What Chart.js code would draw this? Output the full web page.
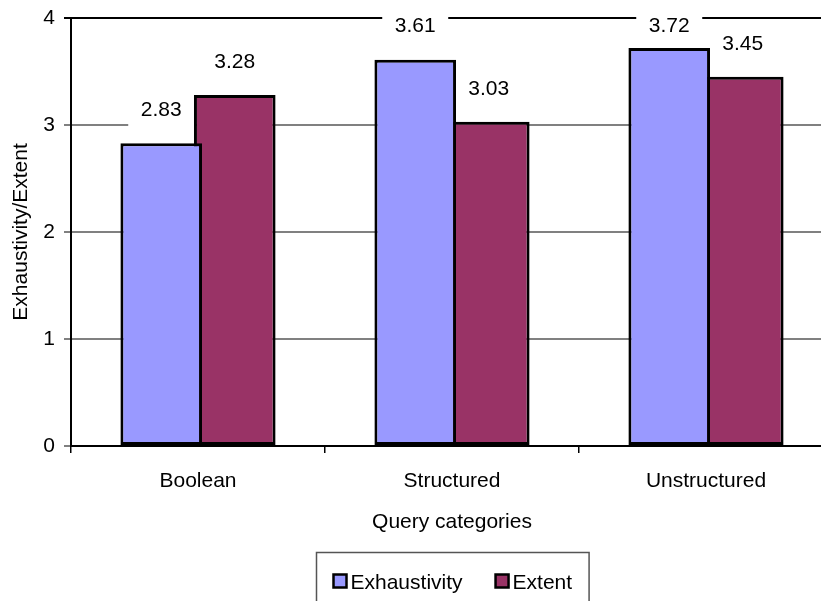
<!DOCTYPE html>
<html>
<head>
<meta charset="utf-8">
<script src="https://cdn.jsdelivr.net/npm/chart.js@4/dist/chart.umd.min.js"></script>
<style>
  html, body { margin: 0; padding: 0; background: #fff; overflow: hidden; }
  #wrap { width: 821px; height: 601px; overflow: hidden; }
</style>
</head>
<body>
<div id="wrap"><canvas id="c" width="850" height="601"></canvas></div>
<script>
const categories = ['Boolean', 'Structured', 'Unstructured'];
const exhaustivity = [2.83, 3.61, 3.72];
const extent = [3.28, 3.03, 3.45];
const seriesNames = ['Exhaustivity', 'Extent'];
const yTicks = [0, 1, 2, 3, 4];
const xTitle = 'Query categories';
const yTitle = 'Exhaustivity/Extent';

const FONT = '"Liberation Sans", Arial, sans-serif';
const FS = 21;

const labelPlugin = {
  id: 'valueLabels',
  beforeDatasetsDraw(chart) {
    const ctx = chart.ctx;
    ctx.save();
    ctx.fillStyle = '#fff';
    chart.data.datasets.forEach((ds, di) => {
      chart.getDatasetMeta(di).data.forEach((bar) => {
        const cy = Math.max(bar.y - 34, 25);
        ctx.fillRect(bar.x - 33, cy - 18, 66, 36);
      });
    });
    ctx.restore();
  },
  afterDatasetsDraw(chart) {
    const ctx = chart.ctx;
    ctx.save();
    ctx.fillStyle = '#000';
    ctx.font = FS + 'px ' + FONT;
    ctx.textAlign = 'center';
    ctx.textBaseline = 'middle';
    chart.data.datasets.forEach((ds, di) => {
      chart.getDatasetMeta(di).data.forEach((bar, i) => {
        const cy = Math.max(bar.y - 34, 25);
        ctx.fillText(ds.data[i].toFixed(2), bar.x, cy + 1);
      });
    });
    ctx.restore();
  }
};

const legendPlugin = {
  id: 'boxLegend',
  afterDraw(chart) {
    const ctx = chart.ctx;
    const a = chart.chartArea;
    ctx.save();
    ctx.font = FS + 'px ' + FONT;
    const sq = 13, gap = 4, between = 33, pad = 17;
    const items = chart.data.datasets.map(d => ({ text: d.label, color: d.backgroundColor, w: ctx.measureText(d.label).width }));
    let content = 0;
    items.forEach((it, i) => { content += sq + gap + it.w + (i < items.length - 1 ? between : 0); });
    const boxW = content + pad * 2;
    const cx = (a.left + a.right) / 2;
    const bx = Math.round(cx - boxW / 2) + 0.5;
    const by = a.bottom + 106.5;
    ctx.strokeStyle = '#555';
    ctx.lineWidth = 1.5;
    ctx.strokeRect(bx, by, boxW, 70);
    let x = bx + pad;
    const ty = by + 30;
    items.forEach((it) => {
      ctx.fillStyle = it.color;
      ctx.fillRect(x, ty - 8, sq, sq);
      ctx.strokeStyle = '#000';
      ctx.lineWidth = 2.5;
      ctx.strokeRect(x, ty - 8, sq, sq);
      ctx.fillStyle = '#000';
      ctx.textAlign = 'left';
      ctx.textBaseline = 'middle';
      ctx.fillText(it.text, x + sq + gap, ty + 1);
      x += sq + gap + it.w + between;
    });
    ctx.restore();
  }
};

new Chart(document.getElementById('c'), {
  type: 'bar',
  data: {
    labels: categories,
    datasets: [
      { label: seriesNames[0], data: exhaustivity, backgroundColor: '#9999FF', borderColor: '#000', borderWidth: 3, borderSkipped: false },
      { label: seriesNames[1], data: extent, backgroundColor: '#993366', borderColor: '#000', borderWidth: 3, borderSkipped: false }
    ]
  },
  options: {
    responsive: false,
    animation: false,
    devicePixelRatio: 1,
    categoryPercentage: 0.579,
    barPercentage: 1.11,
    layout: { padding: { left: 0, top: 10, right: 17, bottom: 0 } },
    plugins: {
      legend: { display: false },
      tooltip: { enabled: false }
    },
    scales: {
      x: {
        afterFit(s) { s.height = 155; },
        grid: { display: true, drawOnChartArea: false, drawTicks: true, tickLength: 7, color: '#000', lineWidth: 1.5 },
        border: { display: true, color: '#000', width: 2 },
        ticks: { color: '#000', padding: 16, font: { family: FONT, size: FS } },
        title: { display: true, text: xTitle, color: '#000', font: { family: FONT, size: FS }, padding: { top: 0, bottom: 66 } }
      },
      y: {
        min: 0, max: 4,
        afterFit(s) { s.width = 71; },
        afterBuildTicks(s) { s.ticks = yTicks.map(v => ({ value: v })); },
        grid: {
          drawTicks: true, tickLength: 7,
          color: (c) => (c.tick && c.tick.value === 4) ? '#000' : '#808080',
          lineWidth: 2
        },
        border: { display: true, color: '#000', width: 2 },
        ticks: { color: '#000', padding: 9, font: { family: FONT, size: FS, lineHeight: 0.85 } },
        title: { display: true, text: yTitle, color: '#000', font: { family: FONT, size: FS }, padding: { top: 9, bottom: 0 } }
      }
    }
  },
  plugins: [labelPlugin, legendPlugin]
});
</script>
</body>
</html>
